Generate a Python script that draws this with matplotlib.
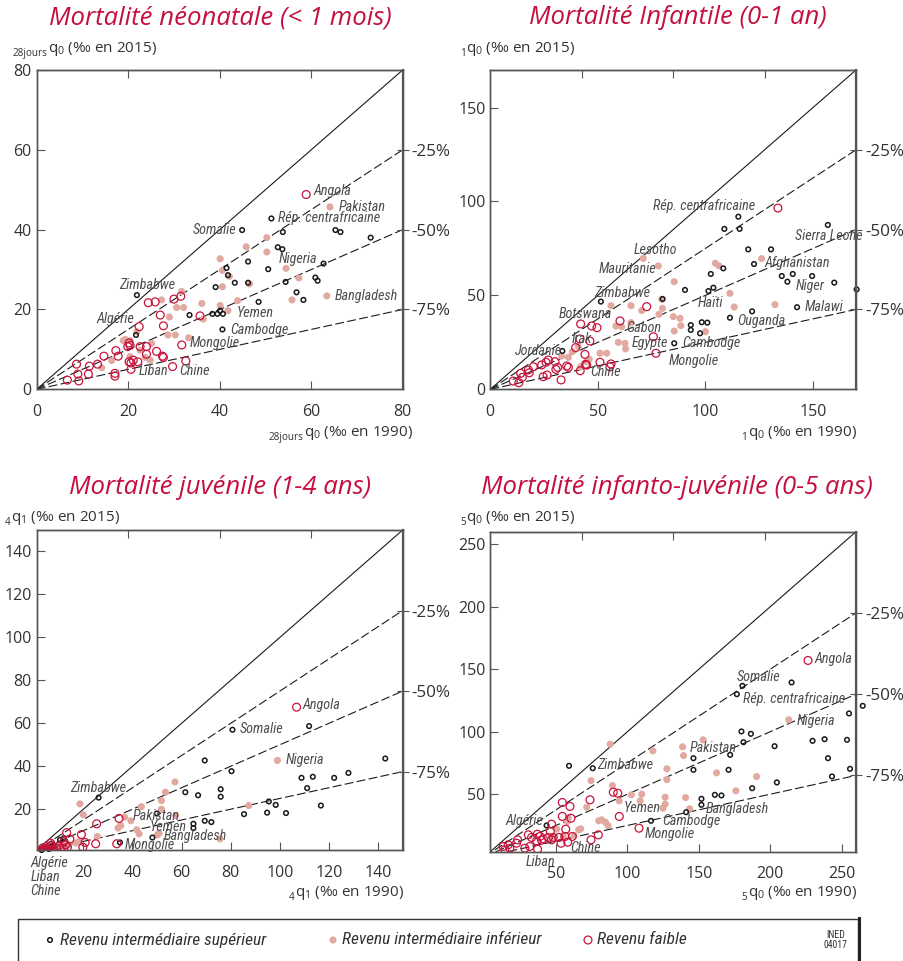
import matplotlib
matplotlib.use("Agg")
import matplotlib.pyplot as plt
from matplotlib.patches import Rectangle
import numpy as np

plt.rcParams['font.family'] = ['Open Sans', 'DejaVu Sans']
plt.rcParams['mathtext.default'] = 'regular'

COND = ['Liberation Sans Narrow', 'DejaVu Sans Condensed', 'Roboto Condensed', 'Open Sans']

TITLE_RED = '#c5103f'
LOW_RED = '#c8143c'
PINK = '#e2a9a1'
BLACK = '#1a1a1a'
GREY = '#4d4d4d'

# ---------------- Neonatal (< 1 month) ----------------
NEO_UM_1990 = [21.9, 21.7, 33.4, 38.4, 39.5, 40.7, 40.1, 39.1, 40.6, 41.5, 41.8, 43.3, 44.9, 46.2, 46.2,
               48.5, 50.6, 51.3, 52.7, 53.7, 53.8, 54.4, 56.8, 58.3, 60.9, 61.4, 62.7, 65.3, 66.4, 73.0]
NEO_UM_2015 = [23.6, 13.6, 18.6, 18.9, 18.9, 18.9, 19.7, 25.6, 15.0, 30.4, 28.6, 26.7, 39.9, 32.0, 26.7,
               21.9, 30.1, 42.8, 35.6, 35.1, 39.4, 26.9, 24.3, 22.4, 28.0, 27.2, 31.5, 39.9, 39.4, 38.0]
NEO_LM_1990 = [64.1, 50.3, 45.8, 50.3, 40.1, 40.6, 42.1, 40.6, 46.5, 54.5, 57.3, 55.8, 63.4, 43.9, 40.1,
               41.8, 36.1, 36.4, 31.7, 27.3, 30.6, 32.1, 29.0, 28.7, 30.3, 33.2, 18.9, 20.4, 21.9, 25.1,
               22.6, 16.4, 14.2, 20.4, 23.7, 24.8, 19.4]
NEO_LM_2015 = [45.7, 38.0, 35.7, 34.4, 32.7, 29.8, 28.3, 25.7, 26.4, 30.3, 27.9, 22.4, 23.4, 22.2, 21.0,
               19.7, 21.5, 17.6, 24.5, 22.4, 20.5, 20.5, 18.1, 13.6, 13.6, 12.9, 12.2, 12.2, 14.4, 11.5,
               9.8, 7.2, 5.4, 8.2, 8.0, 7.3, 12.5]
NEO_LI_1990 = [58.9, 30.0, 31.5, 24.4, 25.9, 27.0, 27.7, 22.4, 35.7, 31.7, 32.6, 29.7, 20.6, 26.2, 27.5,
               27.7, 24.0, 24.0, 22.6, 19.9, 20.2, 20.4, 17.8, 17.3, 14.7, 13.3, 11.5, 11.3, 8.7, 9.0,
               9.2, 6.7, 17.1, 17.1, 20.2, 21.1, 22.1, 20.6]
NEO_LI_2015 = [48.8, 22.6, 23.3, 21.7, 21.9, 18.6, 15.9, 15.7, 18.4, 11.1, 7.1, 5.7, 5.0, 9.5, 8.3,
               8.0, 10.7, 8.8, 10.7, 10.7, 11.6, 11.0, 8.3, 9.7, 8.3, 6.3, 5.8, 3.8, 6.3, 3.8,
               2.1, 2.3, 4.0, 3.3, 6.9, 7.3, 6.9, 6.6]
NEO_LABELS = ['Angola', 'Pakistan', 'Rép. centrafricaine', 'Somalie', 'Nigeria', 'Bangladesh', 'Zimbabwe',
              'Algérie', 'Yemen', 'Cambodge', 'Mongolie', 'Liban', 'Chine']
NEO_LAB_X = [60.5, 65.9, 52.8, 34.1, 52.8, 65.1, 18.1, 13.1, 43.7, 42.3, 33.5, 22.2, 31.2]
NEO_LAB_Y = [49.8, 45.8, 42.8, 39.9, 32.7, 23.5, 26.1, 17.6, 19.2, 14.9, 11.5, 4.7, 4.5]

# ---------------- Infant (0-1 year) ----------------
INF_UM_1990 = [115.3, 108.8, 115.9, 119.9, 130.5, 108.3, 102.5, 122.6, 156.9, 135.5, 140.6, 138.1, 149.6,
               159.9, 170.3, 142.6, 121.7, 111.4, 90.5, 101.4, 103.7, 80.1, 93.2, 93.2, 98.3, 100.9, 97.5,
               85.5, 51.4, 33.5]
INF_UM_2015 = [91.9, 85.4, 85.4, 74.5, 74.5, 64.4, 61.4, 66.7, 87.5, 60.3, 61.4, 57.3, 60.3,
               56.8, 53.2, 43.7, 41.5, 38.1, 52.9, 52.3, 54.1, 48.1, 34.2, 31.6, 35.7, 35.5, 29.8,
               24.5, 46.7, 20.4]
INF_LM_1990 = [71.1, 78.1, 85.5, 104.6, 106.2, 126.1, 111.4, 113.4, 132.3, 100.0, 79.7, 80.0, 78.4, 70.4,
               65.4, 56.1, 65.4, 58.4, 61.1, 85.1, 88.2, 88.6, 85.5, 59.5, 62.6, 62.9, 51.0, 54.1, 44.8,
               38.1, 33.2, 40.9, 36.3, 46.0, 42.0]
INF_LM_2015 = [69.7, 65.7, 57.3, 67.1, 65.8, 69.6, 51.1, 43.8, 45.1, 30.7, 47.9, 43.1, 39.9, 41.9,
               44.5, 44.5, 35.5, 33.7, 33.3, 38.7, 37.8, 33.9, 31.0, 25.0, 24.5, 21.5, 19.2, 19.2, 14.7,
               20.0, 17.7, 22.7, 17.0, 16.0, 12.0]
INF_LI_1990 = [133.7, 72.7, 60.3, 75.8, 77.0, 42.0, 47.1, 49.6, 41.7, 46.3, 39.7, 44.0, 44.3, 44.8, 51.0,
               56.1, 55.6, 41.8, 32.9, 35.5, 36.3, 30.5, 31.3, 30.1, 25.9, 27.0, 26.4, 24.6, 20.0, 17.7,
               18.1, 14.1, 14.9, 13.3, 10.7, 23.9]
INF_LI_2015 = [96.5, 44.0, 36.4, 28.0, 19.2, 34.8, 33.7, 32.8, 26.8, 25.7, 22.2, 18.6, 13.3, 12.9, 14.4,
               13.5, 12.0, 9.9, 5.0, 12.4, 11.7, 10.6, 11.7, 14.7, 14.4, 15.6, 7.6, 6.7, 12.0, 10.3,
               8.8, 8.5, 6.4, 3.5, 4.4, 13.0]
INF_LABELS = ['Rép. centrafricaine', 'Sierra Leone', 'Lesotho', 'Mauritanie', 'Afghanistan', 'Niger',
              'Zimbabwe', 'Haïti', 'Malawi', 'Botswana', 'Ouganda', 'Gabon', 'Irak', 'Egypte', 'Cambodge',
              'Jordanie', 'Mongolie', 'Chine']
INF_LAB_X = [75.5, 141.6, 66.5, 50.5, 127.4, 142.0, 48.2, 96.2, 146.3, 31.9, 114.8, 63.4, 37.8, 65.7, 89.3,
             11.5, 82.8, 46.3]
INF_LAB_Y = [97.6, 81.6, 74.2, 63.9, 67.1, 55.0, 51.5, 46.1, 44.0, 40.1, 36.6, 32.5, 26.6, 24.5, 24.8,
             20.6, 15.3, 9.4]

# ---------------- Juvenile (1-4 years) ----------------
JUV_UM_1990 = [80.7, 111.9, 142.9, 69.4, 80.3, 108.8, 113.4, 122.1, 127.9, 111.1, 116.7, 95.5, 98.3, 102.5,
               94.8, 85.4, 61.5, 66.7, 75.9, 75.9, 64.8, 64.8, 69.4, 72.1, 49.9, 48.1, 34.9, 26.2, 10.5,
               12.1, 5.0, 7.0, 3.0, 8.0, 6.0]
JUV_UM_2015 = [57.0, 58.7, 43.6, 42.7, 37.7, 34.6, 35.1, 34.6, 36.9, 29.8, 21.7, 23.6, 22.0, 18.2,
               18.4, 17.7, 27.9, 26.5, 29.3, 25.8, 13.2, 11.2, 14.6, 14.0, 18.0, 6.8, 4.5, 25.4, 5.7,
               6.5, 2.0, 2.5, 1.0, 3.0, 1.5]
JUV_LM_1990 = [99.0, 87.3, 75.6, 57.3, 53.4, 51.8, 51.8, 57.6, 43.6, 18.6, 20.0, 36.8, 39.3, 35.2, 34.1,
               41.7, 42.7, 50.1, 50.8, 25.7, 16.9, 18.2, 10.0, 12.0, 8.0, 14.0]
JUV_LM_2015 = [42.7, 21.7, 6.2, 32.7, 27.9, 24.0, 20.0, 17.1, 21.2, 22.5, 17.4, 16.3, 14.6, 12.4, 11.2,
               10.4, 8.5, 8.0, 8.8, 7.3, 4.2, 4.9, 3.0, 4.0, 2.0, 3.5]
JUV_LI_1990 = [106.8, 34.5, 25.4, 13.2, 19.2, 33.6, 25.0, 20.7, 19.8, 14.5, 12.1, 12.8, 13.5, 7.4, 6.7,
               2.4, 4.0, 3.0, 5.0, 6.0, 8.0, 9.0, 10.0, 11.0, 3.5, 7.0, 4.5, 12.0]
JUV_LI_2015 = [67.5, 15.7, 13.2, 9.1, 8.2, 3.9, 3.9, 4.5, 2.3, 6.1, 4.9, 3.4, 2.3, 2.6, 4.2,
               0.6, 1.4, 1.0, 1.8, 1.2, 1.5, 2.0, 2.8, 1.9, 2.0, 3.2, 0.8, 1.5]
JUV_LABELS = ['Angola', 'Somalie', 'Nigeria', 'Zimbabwe', 'Pakistan', 'Yemen', 'Bangladesh', 'Mongolie',
              'Algérie', 'Liban', 'Chine']
JUV_LAB_X = [109.2, 83.8, 102.4, 14.6, 40.2, 47.2, 52.6, 36.8, -1.5, -1.5, -1.5]
JUV_LAB_Y = [68.6, 57.3, 43.0, 30.1, 16.8, 11.7, 7.6, 3.4, -5.1, -11.6, -18.3]

# ---------------- Under five (0-5 years) ----------------
U5_UM_1990 = [59.1, 75.7, 43.4, 116.5, 180.5, 176.6, 214.9, 255.1, 179.8, 186.4, 181.2, 203.0, 229.6, 238.0,
              253.7, 240.4, 243.2, 255.8, 171.9, 146.2, 146.2, 170.8, 187.3, 204.6, 161.2, 165.8, 151.8,
              151.8, 141.1, 264.7]
U5_UM_2015 = [72.7, 70.8, 25.0, 28.7, 136.7, 130.0, 139.4, 114.6, 100.2, 98.3, 91.6, 88.4, 92.7, 94.0,
              93.5, 78.8, 64.2, 70.3, 81.5, 78.8, 69.5, 69.5, 54.8, 59.4, 49.5, 49.0, 46.3,
              41.5, 35.6, 120.7]
U5_LM_1990 = [212.9, 87.9, 117.8, 138.6, 139.3, 153.0, 127.6, 127.6, 162.4, 190.4, 175.9, 140.7, 143.5, 126.4,
              126.4, 124.8, 110.0, 108.9, 102.8, 94.2, 89.5, 74.5, 71.5, 79.9, 82.0, 84.6, 86.4, 65.9,
              67.3, 50.5, 57.9, 48.1, 55.1, 62.6, 58.6]
U5_LM_2015 = [109.5, 90.0, 84.7, 87.9, 80.9, 93.5, 70.3, 61.7, 67.1, 64.1, 52.7, 47.3, 38.3, 47.6,
              42.0, 38.8, 50.0, 44.7, 49.5, 44.7, 56.9, 60.9, 39.6, 28.7, 29.5, 27.6, 24.9, 21.5,
              22.3, 22.0, 28.1, 15.3, 16.4, 16.9, 31.3]
U5_LI_1990 = [226.4, 90.1, 93.2, 73.8, 54.4, 59.8, 54.4, 60.5, 94.3, 108.1, 46.9, 46.0, 56.8, 79.6, 74.5,
              30.6, 32.9, 36.9, 38.8, 41.1, 44.6, 52.1, 56.3, 61.4, 53.5, 58.2, 46.9, 48.1, 36.4, 39.9,
              31.7, 28.2, 37.1, 23.1, 22.4, 16.5, 17.7, 14.2, 13.0]
U5_LI_2015 = [157.0, 51.6, 50.8, 45.5, 43.4, 40.2, 32.2, 30.8, 32.2, 22.8, 26.0, 20.2, 22.0, 17.5, 13.5,
              17.5, 15.4, 18.0, 16.2, 14.3, 15.4, 15.4, 16.2, 16.2, 10.8, 11.6, 13.5, 15.4, 12.7, 13.2,
              8.2, 6.8, 6.0, 13.5, 10.8, 9.5, 6.8, 5.5, 8.2]
U5_LABELS = ['Angola', 'Somalie', 'Rép. centrafricaine', 'Nigeria', 'Pakistan', 'Zimbabwe', 'Yemen',
             'Bangladesh', 'Algérie', 'Cambodge', 'Mongolie', 'Chine', 'Liban']
U5_LAB_X = [230.8, 176.6, 180.8, 218.7, 143.5, 79.0, 97.2, 154.7, 14.5, 124.1, 112.4, 59.8, 29.0]
U5_LAB_Y = [158.3, 143.6, 126.0, 108.9, 87.3, 73.5, 38.8, 38.0, 28.9, 28.2, 18.4, 6.8, -4.4]

REDUCTIONS = ['-25%', '-50%', '-75%']
LEGEND_LABELS = ['Revenu intermédiaire supérieur', 'Revenu intermédiaire inférieur', 'Revenu faible']

W, H = 904, 961
fig = plt.figure(figsize=(W / 100, H / 100), dpi=100)
RENDERER = fig.canvas.get_renderer()


def px_rect(left, top, right, bottom):
    return [left / W, 1 - bottom / H, (right - left) / W, (bottom - top) / H]


def sub_label(x_px, base_px, pre, main, ha):
    """Axis label with a small left subscript (e.g. 28jours q0)."""
    t_pre = fig.text(0, 0, pre, fontsize=7.2, color='#333333', va='baseline', ha='left')
    t_main = fig.text(0, 0, main, fontsize=11, color='#333333', va='baseline', ha='left')
    w_pre = t_pre.get_window_extent(RENDERER).width
    w_main = t_main.get_window_extent(RENDERER).width
    x0 = x_px - w_pre - w_main if ha == 'right' else x_px
    t_pre.set_position((x0 / W, 1 - (base_px + 4) / H))
    t_main.set_position(((x0 + w_pre + 0.5) / W, 1 - base_px / H))


def panel(rect, lo, hi, ticks, title, title_xy, pre, ylab, ylab_xy, xlab, xlab_xy,
          um, lm, li, labels, lab_x, lab_y):
    ax = fig.add_axes(px_rect(*rect))
    ax.set_xlim(lo, hi)
    ax.set_ylim(lo, hi)
    xs = np.array([0.0, hi])
    ax.plot(xs, xs, color=BLACK, lw=0.8, zorder=1)
    for f in (0.75, 0.5, 0.25):
        ax.plot(xs, f * xs, color=BLACK, lw=0.8, dashes=(8, 3), zorder=1)
    ax.scatter(lm[0], lm[1], s=26, color=PINK, edgecolors='none', zorder=2)
    ax.scatter(um[0], um[1], s=11, facecolors='none', edgecolors=BLACK, linewidths=1.1, zorder=3,
               clip_on=False)
    ax.scatter(li[0], li[1], s=32, facecolors='none', edgecolors=LOW_RED, linewidths=0.9, zorder=3)
    for t, x, y in zip(labels, lab_x, lab_y):
        ax.text(x, y, t, fontsize=10.2, style='italic', family=COND, color=GREY,
                ha='left', va='center', clip_on=False, zorder=4)
    ax.set_xticks(ticks)
    ax.set_yticks(ticks)
    ax.tick_params(direction='in', length=6, width=0.8, color='#555555', labelcolor='#333333',
                   labelsize=11.5)
    ax.tick_params(axis='x', pad=10.5)
    ax.tick_params(axis='y', pad=3.5)
    for sp in ax.spines.values():
        sp.set_color('#555555')
        sp.set_linewidth(1.0)
    top = ax.secondary_xaxis('top')
    top.set_xticks([lo + (hi - lo) * k / 4 for k in (1, 2, 3)])
    top.set_xticklabels([])
    top.tick_params(direction='in', length=6, width=0.8, color='#555555')
    top.spines['top'].set_color('#555555')
    tw = ax.twinx()
    tw.set_ylim(lo, hi)
    tw.set_yticks([0.75 * hi, 0.5 * hi, 0.25 * hi])
    tw.set_yticklabels(REDUCTIONS)
    tw.tick_params(direction='inout', length=9, width=0.8, color='#555555', labelcolor='#333333',
                   labelsize=12.3, pad=2)
    for sp in tw.spines.values():
        sp.set_color('#555555')
        sp.set_linewidth(1.0)
    tw.spines['right'].set_linewidth(1.6)
    fig.text(title_xy[0] / W, 1 - title_xy[1] / H, title, fontsize=18.5, style='italic',
             color=TITLE_RED, ha='center', va='center')
    sub_label(ylab_xy[0], ylab_xy[1], pre, ylab, 'left')
    sub_label(xlab_xy[0], xlab_xy[1], pre, xlab, 'right')
    return ax


panel((36.7, 70, 402.7, 389.3), 0, 80, [0, 20, 40, 60, 80],
      'Mortalité néonatale (< 1 mois)', (220, 18), '28jours',
      r'q$_0$ (‰ en 2015)', (13, 52),
      r'q$_0$ (‰ en 1990)', (412, 436),
      (NEO_UM_1990, NEO_UM_2015), (NEO_LM_1990, NEO_LM_2015), (NEO_LI_1990, NEO_LI_2015),
      NEO_LABELS, NEO_LAB_X, NEO_LAB_Y)

panel((490.3, 70, 856, 389.3), 0, 170, [0, 50, 100, 150],
      'Mortalité Infantile (0-1 an)', (678, 18), '1',
      r'q$_0$ (‰ en 2015)', (460, 52),
      r'q$_0$ (‰ en 1990)', (856, 436),
      (INF_UM_1990, INF_UM_2015), (INF_LM_1990, INF_LM_2015), (INF_LI_1990, INF_LI_2015),
      INF_LABELS, INF_LAB_X, INF_LAB_Y)

panel((36.7, 530, 402.7, 850), 1, 150, [20, 40, 60, 80, 100, 120, 140],
      'Mortalité juvénile (1-4 ans)', (220, 487), '4',
      r'q$_1$ (‰ en 2015)', (5, 521),
      r'q$_1$ (‰ en 1990)', (403, 896),
      (JUV_UM_1990, JUV_UM_2015), (JUV_LM_1990, JUV_LM_2015), (JUV_LI_1990, JUV_LI_2015),
      JUV_LABELS, JUV_LAB_X, JUV_LAB_Y)

panel((490.3, 531.7, 856, 851.7), 4, 260, [50, 100, 150, 200, 250],
      'Mortalité infanto-juvénile (0-5 ans)', (677, 487), '5',
      r'q$_0$ (‰ en 2015)', (460, 521),
      r'q$_0$ (‰ en 1990)', (856, 896),
      (U5_UM_1990, U5_UM_2015), (U5_LM_1990, U5_LM_2015), (U5_LI_1990, U5_LI_2015),
      U5_LABELS, U5_LAB_X, U5_LAB_Y)

# legend box
lg = fig.add_axes([18 / W, 0, (860 - 18) / W, (961 - 918) / H])
lg.set_xlim(18, 860)
lg.set_ylim(961, 918)
lg.axis('off')
lg.add_patch(Rectangle((18.5, 918.5), 840, 60, fill=False, edgecolor='#333333', lw=1.0, clip_on=False))
lg.plot([859.5, 859.5], [918, 961], color='#222222', lw=2.2, clip_on=False)
lg.scatter([50], [940], s=11, facecolors='none', edgecolors=BLACK, linewidths=1.1)
lg.scatter([333], [940], s=26, color=PINK, edgecolors='none')
lg.scatter([588], [940], s=32, facecolors='none', edgecolors=LOW_RED, linewidths=0.9)
for x, t in zip([60, 342, 597], LEGEND_LABELS):
    lg.text(x, 940, t, fontsize=12.5, style='italic', family=COND, color='#333333', ha='left', va='center')
lg.text(836, 940, 'INED\n04017', fontsize=7, family=COND, color='#333333', ha='center', va='center',
        linespacing=1.0)

fig.savefig('out.png', dpi=100)
